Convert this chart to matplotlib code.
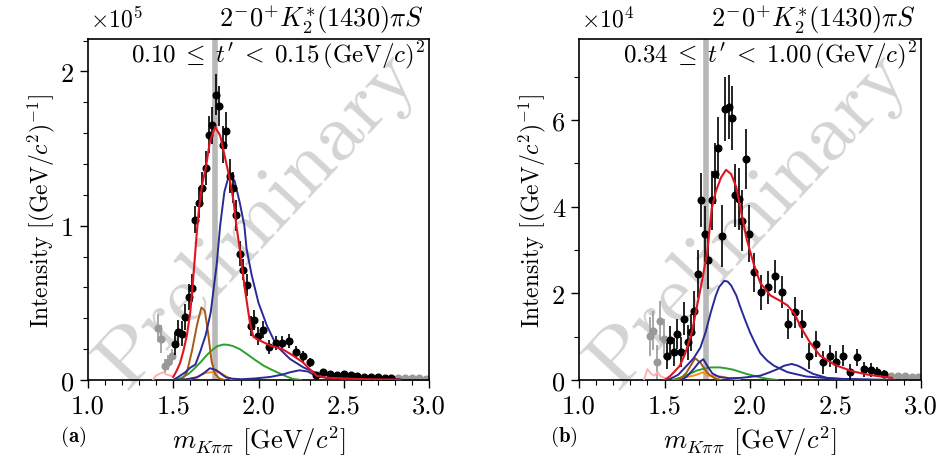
import matplotlib
matplotlib.use("Agg")
import matplotlib.pyplot as plt
from matplotlib.ticker import MultipleLocator, FormatStrFormatter

plt.rcParams["font.family"] = "serif"
plt.rcParams["font.serif"] = ["cmr10", "DejaVu Serif"]
plt.rcParams["mathtext.fontset"] = "cm"
plt.rcParams["axes.unicode_minus"] = False
plt.rcParams["axes.formatter.use_mathtext"] = True

# ---------------- panel (a): 0.10 <= t' < 0.15, intensity in units of 1e5 ----------------
a_grey_x = [1.41, 1.43, 1.45, 1.47, 1.49, 2.82, 2.86, 2.90, 2.94, 2.98]
a_grey_y = [0.336, 0.266, 0.089, 0.115, 0.154, 0.012, 0.010, 0.015, 0.010, 0.008]
a_grey_e = [0.09, 0.09, 0.05, 0.05, 0.05, 0.006, 0.006, 0.006, 0.006, 0.006]

a_x = [1.51, 1.53, 1.55, 1.57, 1.59, 1.61, 1.63, 1.65, 1.67, 1.69, 1.71, 1.73, 1.75,
       1.77, 1.79, 1.81, 1.83, 1.85, 1.87, 1.89, 1.91, 1.93, 1.955, 1.975, 1.995,
       2.025, 2.06, 2.10, 2.14, 2.18, 2.22, 2.26, 2.30, 2.34, 2.38, 2.42, 2.46, 2.50,
       2.54, 2.58, 2.62, 2.66, 2.70, 2.74, 2.78]
a_y = [0.234, 0.31, 0.30, 0.41, 0.54, 0.595, 1.04, 1.15, 1.245, 1.375, 1.59, 1.65, 1.85,
       1.775, 1.525, 1.615, 1.32, 1.245, 1.067, 0.818, 0.716, 0.617, 0.353, 0.39, 0.284,
       0.327, 0.212, 0.24, 0.24, 0.255, 0.18, 0.154, 0.115, 0.030, 0.05, 0.039, 0.034, 0.039,
       0.034, 0.026, 0.022, 0.022, 0.017, 0.013, 0.013]
a_e = [0.075, 0.08, 0.08, 0.085, 0.085, 0.09, 0.09, 0.10, 0.10, 0.11, 0.12, 0.12, 0.13,
       0.13, 0.12, 0.12, 0.11, 0.10, 0.10, 0.08, 0.07, 0.07, 0.065, 0.065, 0.06,
       0.055, 0.045, 0.045, 0.045, 0.045, 0.04, 0.035, 0.03, 0.015, 0.015, 0.012, 0.01, 0.01,
       0.01, 0.008, 0.008, 0.008, 0.006, 0.006, 0.005]

a_total_x = [1.50, 1.52, 1.54, 1.56, 1.58, 1.60, 1.62, 1.63, 1.64, 1.65, 1.67, 1.69, 1.715,
             1.745, 1.775, 1.80, 1.83, 1.855, 1.87, 1.89, 1.92, 1.95, 1.97, 2.00, 2.07,
             2.14, 2.20, 2.26, 2.31, 2.34, 2.40, 2.50, 2.60, 2.70, 2.83]
a_total_y = [0.02, 0.06, 0.11, 0.19, 0.29, 0.44, 0.70, 0.84, 0.98, 1.10, 1.27, 1.37, 1.545,
             1.64, 1.585, 1.46, 1.31, 1.15, 1.00, 0.85, 0.59, 0.37, 0.28, 0.26, 0.223,
             0.20, 0.16, 0.115, 0.06, 0.028, 0.015, 0.01, 0.006, 0.004, 0.002]
a_ext_x = [1.38, 1.40, 1.42, 1.44, 1.46, 1.48, 1.50]
a_ext_y = [0.0, 0.03, 0.04, 0.05, 0.035, 0.03, 0.02]

a_main_x = [1.50, 1.53, 1.57, 1.60, 1.63, 1.66, 1.69, 1.72, 1.74, 1.755, 1.775, 1.80, 1.82,
            1.84, 1.86, 1.89, 1.917, 1.93, 1.96, 2.00, 2.05, 2.107, 2.185, 2.263, 2.34,
            2.42, 2.50, 2.60, 2.70, 2.83]
a_main_y = [0.0, 0.02, 0.05, 0.08, 0.10, 0.19, 0.29, 0.44, 0.62, 0.75, 1.0, 1.22, 1.30,
            1.32, 1.29, 1.15, 1.0, 0.85, 0.68, 0.50, 0.35, 0.22, 0.136, 0.082, 0.045,
            0.028, 0.02, 0.014, 0.01, 0.005]

a_brown_x = [1.55, 1.58, 1.61, 1.64, 1.665, 1.685, 1.705, 1.725, 1.745, 1.77, 1.80]
a_brown_y = [0.0, 0.05, 0.19, 0.36, 0.47, 0.45, 0.30, 0.12, 0.04, 0.01, 0.0]

a_green_x = [1.52, 1.55, 1.59, 1.62, 1.66, 1.70, 1.735, 1.76, 1.795, 1.82, 1.85, 1.89, 1.93,
             1.98, 2.03, 2.08, 2.13, 2.17, 2.20, 2.25]
a_green_y = [0.0, 0.015, 0.04, 0.07, 0.115, 0.165, 0.20, 0.22, 0.23, 0.228, 0.22, 0.20, 0.17,
             0.13, 0.093, 0.065, 0.04, 0.02, 0.008, 0.0]

a_blue2_x = [1.50, 1.58, 1.64, 1.68, 1.715, 1.75, 1.78, 1.81, 1.85, 1.90, 1.98, 2.07, 2.14,
             2.185, 2.24, 2.29, 2.34, 2.42, 2.55, 2.70]
a_blue2_y = [0.0, 0.005, 0.017, 0.045, 0.076, 0.065, 0.04, 0.017, 0.008, 0.005, 0.01, 0.02,
             0.035, 0.05, 0.063, 0.055, 0.025, 0.01, 0.004, 0.002]

a_orange_x = [1.55, 1.59, 1.64, 1.686, 1.72, 1.765, 1.80, 1.84, 1.90]
a_orange_y = [0.0, 0.005, 0.02, 0.045, 0.05, 0.056, 0.03, 0.005, 0.0]

# ---------------- panel (b): 0.34 <= t' < 1.00, intensity in units of 1e4 ----------------
b_grey_x = [1.415, 1.435, 1.455, 1.475, 1.495, 2.825, 2.865, 2.905, 2.945, 2.985]
b_grey_y = [1.01, 1.14, 0.41, 1.37, 0.95, 0.10, 0.10, 0.10, 0.08, 0.07]
b_grey_e = [0.45, 0.45, 0.40, 0.45, 0.45, 0.05, 0.05, 0.05, 0.05, 0.05]

b_x = [1.515, 1.535, 1.555, 1.575, 1.595, 1.615, 1.635, 1.655, 1.675, 1.695, 1.715, 1.735,
       1.755, 1.775, 1.795, 1.815, 1.835, 1.855, 1.875, 1.895, 1.915, 1.935, 1.955, 1.975,
       1.995, 2.025, 2.065, 2.105, 2.145, 2.185, 2.225, 2.265, 2.305, 2.345, 2.385, 2.425,
       2.465, 2.505, 2.545, 2.585, 2.625, 2.665, 2.705, 2.745, 2.785]
b_y = [0.55, 0.93, 0.64, 1.06, 0.64, 1.41, 0.87, 1.10, 1.60, 2.45, 4.16, 3.37,
       2.76, 4.15, 4.76, 5.35, 3.33, 6.26, 6.30, 6.05, 4.26, 4.18, 3.68, 5.10,
       3.38, 2.49, 2.02, 2.14, 2.39, 2.04, 1.29, 1.56, 1.29, 0.56, 0.83, 0.41,
       0.55, 0.42, 0.56, 0.18, 0.52, 0.25, 0.24, 0.18, 0.14]
b_e = [0.30, 0.32, 0.32, 0.35, 0.35, 0.38, 0.40, 0.42, 0.45, 0.55, 0.62, 0.65,
       0.65, 0.68, 0.70, 0.72, 0.72, 0.74, 0.74, 0.74, 0.72, 0.72, 0.70, 0.69,
       0.66, 0.45, 0.40, 0.38, 0.38, 0.37, 0.35, 0.35, 0.33, 0.30, 0.30, 0.27,
       0.26, 0.25, 0.24, 0.20, 0.20, 0.17, 0.16, 0.12, 0.10]

b_total_x = [1.50, 1.53, 1.56, 1.59, 1.62, 1.66, 1.69, 1.72, 1.75, 1.776, 1.80, 1.83, 1.86,
             1.89, 1.92, 1.95, 1.98, 2.02, 2.06, 2.12, 2.18, 2.22, 2.26, 2.30, 2.35, 2.41,
             2.50, 2.60, 2.70, 2.83]
b_total_y = [0.0, 0.08, 0.2, 0.33, 0.6, 1.1, 1.7, 2.3, 2.95, 3.95, 4.35, 4.67, 4.85,
             4.75, 4.45, 3.85, 3.26, 2.70, 2.24, 1.95, 1.82, 1.72, 1.53, 1.20, 0.87, 0.56,
             0.34, 0.20, 0.115, 0.05]
b_ext_x = [1.38, 1.40, 1.42, 1.44, 1.46, 1.48, 1.50]
b_ext_y = [0.0, 0.25, 0.15, 0.10, 0.18, 0.08, 0.05]

b_main_x = [1.50, 1.53, 1.58, 1.63, 1.67, 1.71, 1.74, 1.77, 1.80, 1.82, 1.85, 1.87, 1.89,
            1.92, 1.94, 1.97, 2.00, 2.03, 2.06, 2.10, 2.14, 2.22, 2.33, 2.50, 2.65, 2.83]
b_main_y = [0.0, 0.02, 0.12, 0.33, 0.5, 0.75, 1.1, 1.55, 1.95, 2.15, 2.29, 2.27, 2.18,
            1.95, 1.72, 1.40, 1.10, 0.85, 0.62, 0.45, 0.33, 0.18, 0.08, 0.03, 0.015, 0.005]

b_blue2_x = [1.60, 1.63, 1.67, 1.70, 1.727, 1.756, 1.78, 1.82, 1.88, 1.95, 2.06, 2.11, 2.16,
             2.20, 2.244, 2.28, 2.30, 2.34, 2.37, 2.45, 2.55, 2.70]
b_blue2_y = [0.0, 0.08, 0.25, 0.40, 0.48, 0.29, 0.15, 0.07, 0.04, 0.05, 0.10, 0.17, 0.25,
             0.33, 0.37, 0.33, 0.29, 0.20, 0.14, 0.05, 0.02, 0.005]

b_brown_x = [1.57, 1.60, 1.63, 1.66, 1.68, 1.71, 1.747, 1.77, 1.79, 1.83]
b_brown_y = [0.0, 0.05, 0.18, 0.38, 0.50, 0.40, 0.18, 0.10, 0.05, 0.0]

b_green_x = [1.55, 1.59, 1.64, 1.69, 1.73, 1.77, 1.825, 1.86, 1.90, 1.94, 1.98, 2.02, 2.06,
             2.10, 2.16]
b_green_y = [0.0, 0.05, 0.13, 0.22, 0.26, 0.29, 0.29, 0.27, 0.24, 0.19, 0.14, 0.10, 0.06,
             0.03, 0.0]

b_orange_x = [1.55, 1.59, 1.63, 1.67, 1.70, 1.727, 1.75, 1.78, 1.83, 1.88, 1.94]
b_orange_y = [0.0, 0.05, 0.07, 0.10, 0.14, 0.18, 0.10, 0.10, 0.08, 0.04, 0.01]

threshold = 1.745

panels = [
    dict(tag=r"$\mathbf{(a)}$", tbin=r"$0.10\;\leq\;t'\;<\;0.15\,(\mathrm{GeV}/c)^2$",
         exp=r"$\times10^5$", ymax=2.21, major=1, minor=0.2,
         grey=(a_grey_x, a_grey_y, a_grey_e), data=(a_x, a_y, a_e),
         total=(a_total_x, a_total_y), ext=(a_ext_x, a_ext_y), main=(a_main_x, a_main_y),
         blue2=(a_blue2_x, a_blue2_y), brown=(a_brown_x, a_brown_y),
         green=(a_green_x, a_green_y), orange=(a_orange_x, a_orange_y)),
    dict(tag=r"$\mathbf{(b)}$", tbin=r"$0.34\;\leq\;t'\;<\;1.00\,(\mathrm{GeV}/c)^2$",
         exp=r"$\times10^4$", ymax=7.87, major=2, minor=1,
         grey=(b_grey_x, b_grey_y, b_grey_e), data=(b_x, b_y, b_e),
         total=(b_total_x, b_total_y), ext=(b_ext_x, b_ext_y), main=(b_main_x, b_main_y),
         blue2=(b_blue2_x, b_blue2_y), brown=(b_brown_x, b_brown_y),
         green=(b_green_x, b_green_y), orange=(b_orange_x, b_orange_y)),
]

W, H = 950, 464
fig = plt.figure(figsize=(W / 100, H / 100), dpi=100)
axes_px = [(88, 40, 429, 381), (579, 40, 921, 381)]

for p, (x0, y0, x1, y1) in zip(panels, axes_px):
    ax = fig.add_axes([x0 / W, 1 - y1 / H, (x1 - x0) / W, (y1 - y0) / H])
    ax.set_xlim(1.0, 3.0)
    ax.set_ylim(0, p["ymax"])

    ax.text(0.5, 0.47, "Preliminary", transform=ax.transAxes, rotation=47,
            fontsize=60, color="0.83", ha="center", va="center", zorder=0)
    ax.axvline(threshold, color="0.72", lw=4, zorder=1)

    gx, gy, ge = p["grey"]
    ax.errorbar(gx, gy, yerr=ge, fmt="o", color="0.6", ms=4.8, elinewidth=1.2,
                capsize=0, zorder=2)
    ax.plot(*p["ext"], color="#ffb0b0", lw=1.4, zorder=3)
    ax.plot(*p["orange"], color="#ff8c1a", lw=1.4, zorder=3)
    ax.plot(*p["green"], color="#2ca02c", lw=1.4, zorder=3)
    ax.plot(*p["brown"], color="#a65a14", lw=1.4, zorder=3)
    ax.plot(*p["blue2"], color="#2a2a96", lw=1.4, zorder=3)
    ax.plot(*p["main"], color="#2a2a96", lw=1.4, zorder=3)
    dx, dy, de = p["data"]
    ax.errorbar(dx, dy, yerr=de, fmt="o", color="black", ms=4.8, elinewidth=1.2,
                capsize=0, zorder=4)
    ax.plot(*p["total"], color="#e0141e", lw=1.5, zorder=5)

    ax.xaxis.set_major_locator(MultipleLocator(0.5))
    ax.xaxis.set_minor_locator(MultipleLocator(0.1))
    ax.yaxis.set_major_locator(MultipleLocator(p["major"]))
    ax.yaxis.set_minor_locator(MultipleLocator(p["minor"]))
    ax.xaxis.set_major_formatter(FormatStrFormatter("%.1f"))
    ax.yaxis.set_major_formatter(FormatStrFormatter("%d"))
    ax.tick_params(which="both", direction="out", top=False, right=False, labelsize=19)
    ax.tick_params(which="major", length=6, width=1, pad=4)
    ax.tick_params(which="minor", length=3.5, width=0.8)
    for s in ax.spines.values():
        s.set_linewidth(1.2)

    ax.text(0.005, 1.06, p["exp"], transform=ax.transAxes, fontsize=17,
            ha="left", va="center")
    ax.text(0.985, 1.06, r"$2^{-}0^{+}K_2^{*}(1430)\pi S$", transform=ax.transAxes,
            fontsize=19, ha="right", va="center")
    ax.text(0.99, 0.955, p["tbin"], transform=ax.transAxes, fontsize=18,
            ha="right", va="center", zorder=6)

    ax.set_ylabel(r"Intensity $[(\mathrm{GeV}/c^2)^{-1}]$", fontsize=17, labelpad=3)
    ax.set_xlabel(r"$m_{K\pi\pi}$ $[\mathrm{GeV}/c^2]$", fontsize=19, labelpad=4)
    ax.text(-0.045, -0.165, p["tag"], transform=ax.transAxes, fontsize=15,
            ha="center", va="center")

fig.savefig("out.png", dpi=100)
